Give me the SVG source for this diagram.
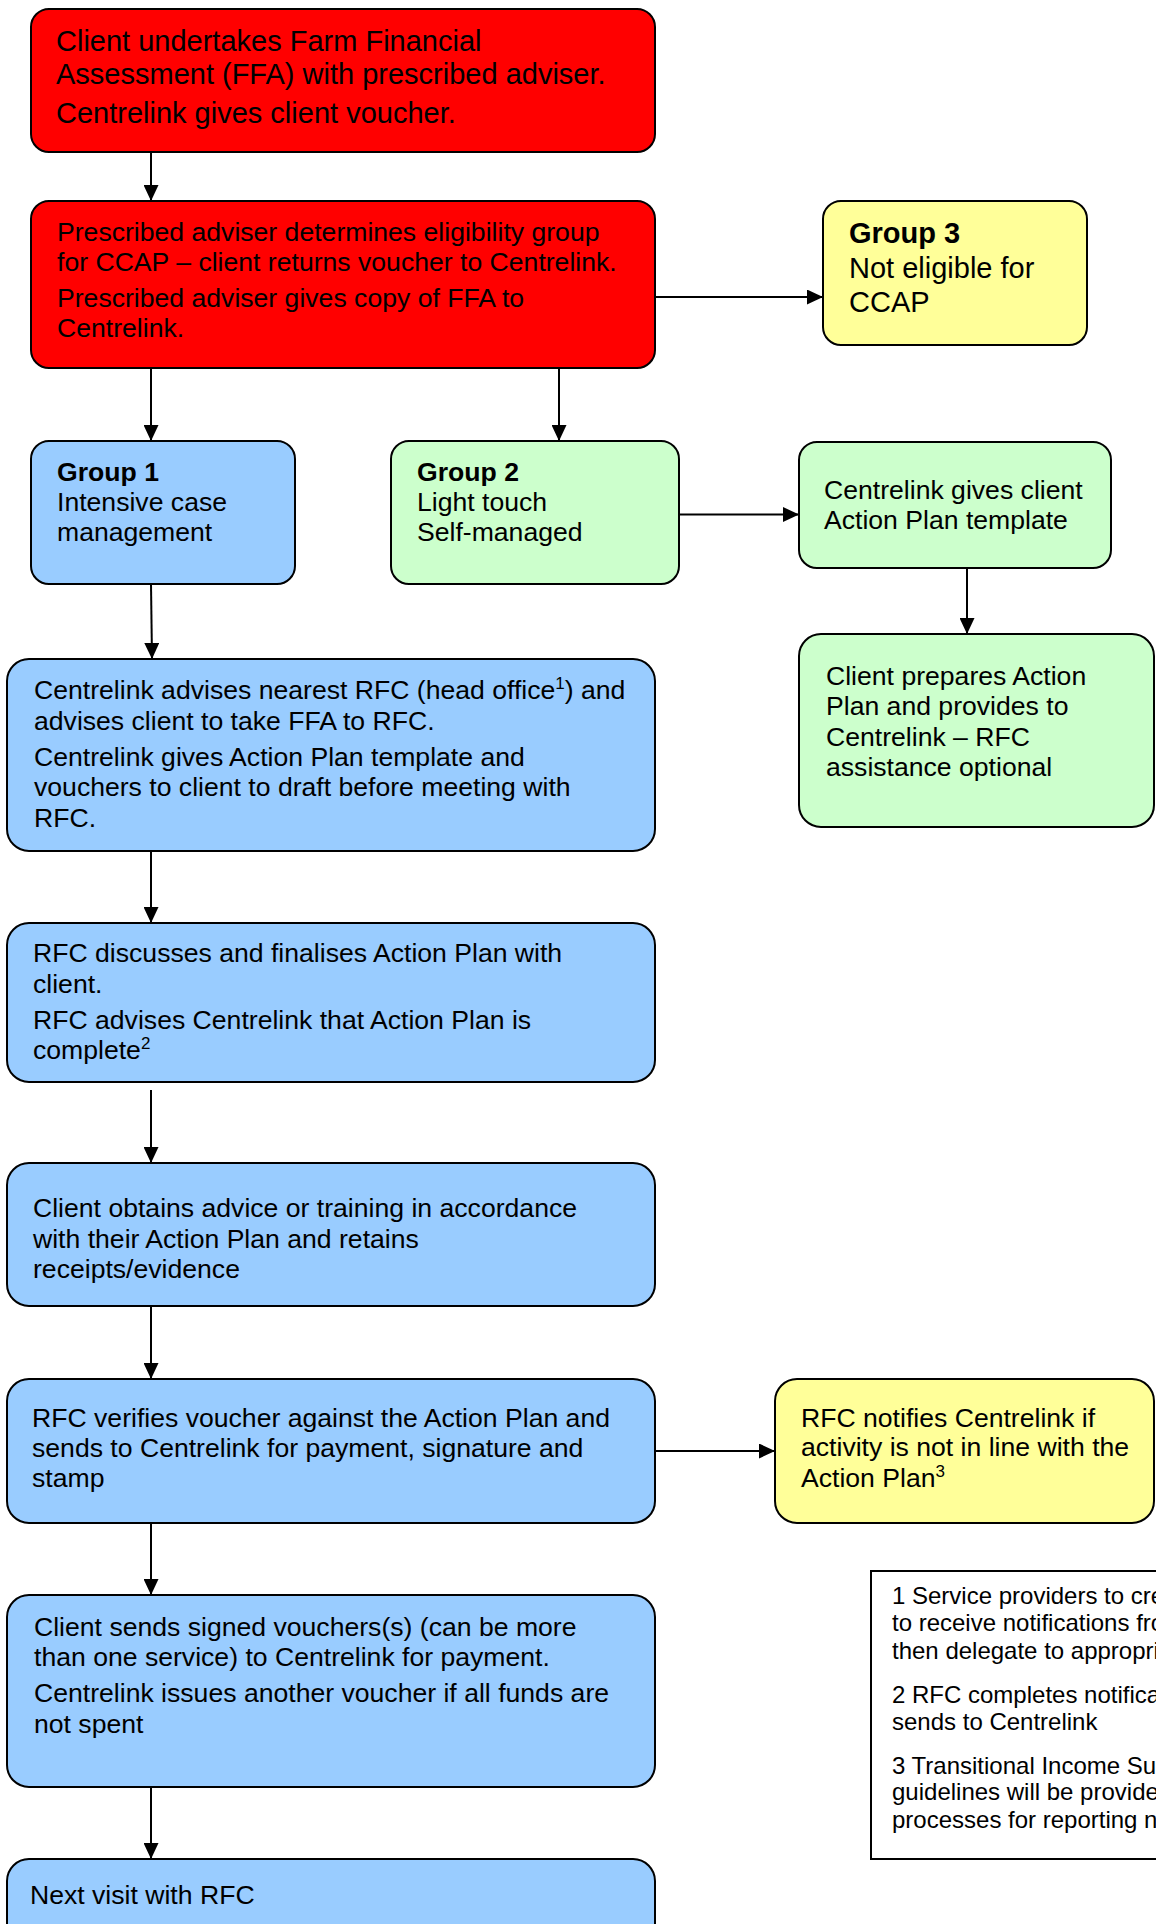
<svg xmlns="http://www.w3.org/2000/svg" width="1156" height="1924" viewBox="0 0 1156 1924">
<defs>
<style>
.box{stroke:#000;stroke-width:2}
.red{fill:#FF0000}
.blue{fill:#99CCFF}
.green{fill:#CCFFCC}
.yellow{fill:#FFFF99}
text{font-family:"Liberation Sans",Arial,sans-serif;fill:#000}
.t29{font-size:29px}
.t26{font-size:26.6px}
.t24{font-size:24px}
.b{font-weight:bold}
.sup{font-size:17px}
.conn line{stroke:#000;stroke-width:2;marker-end:url(#arr)}
</style>
<marker id="arr" markerUnits="userSpaceOnUse" markerWidth="16" markerHeight="15" refX="16" refY="7.5" orient="auto">
<path d="M0,0 L16,7.5 L0,15 z" fill="#000"/>
</marker>
</defs>
<rect width="1156" height="1924" fill="#fff"/>

<g id="connectors" class="conn">
<line x1="151" y1="152" x2="151" y2="201"/>
<line x1="151" y1="368" x2="151" y2="441"/>
<line x1="559" y1="368" x2="559" y2="441"/>
<line x1="655" y1="297" x2="823" y2="297"/>
<line x1="679" y1="514.5" x2="799" y2="514.5"/>
<line x1="967" y1="568" x2="967" y2="634"/>
<line x1="151" y1="584" x2="152" y2="659"/>
<line x1="151" y1="851" x2="151" y2="923"/>
<line x1="151" y1="1090" x2="151" y2="1163"/>
<line x1="151" y1="1306" x2="151" y2="1379"/>
<line x1="655" y1="1451" x2="775" y2="1451"/>
<line x1="151" y1="1523" x2="151" y2="1595"/>
<line x1="151" y1="1787" x2="151" y2="1859"/>
</g>

<g id="n1">
<rect class="box red" x="31" y="9" width="624" height="143" rx="18"/>
<text class="t29" x="56" y="51">Client undertakes Farm Financial</text>
<text class="t29" x="56" y="84">Assessment (FFA) with prescribed adviser.</text>
<text class="t29" x="56" y="123">Centrelink gives client voucher.</text>
</g>

<g id="n2">
<rect class="box red" x="31" y="201" width="624" height="167" rx="18"/>
<text class="t26" x="57" y="241">Prescribed adviser determines eligibility group</text>
<text class="t26" x="57" y="271">for CCAP – client returns voucher to Centrelink.</text>
<text class="t26" x="57" y="307">Prescribed adviser gives copy of FFA to</text>
<text class="t26" x="57" y="337">Centrelink.</text>
</g>

<g id="n3">
<rect class="box yellow" x="823" y="201" width="264" height="144" rx="18"/>
<text class="t29 b" x="849" y="243">Group 3</text>
<text class="t29" x="849" y="278">Not eligible for</text>
<text class="t29" x="849" y="312">CCAP</text>
</g>

<g id="g1">
<rect class="box blue" x="31" y="441" width="264" height="143" rx="18"/>
<text class="t26 b" x="57" y="481">Group 1</text>
<text class="t26" x="57" y="511">Intensive case</text>
<text class="t26" x="57" y="541">management</text>
</g>

<g id="g2">
<rect class="box green" x="391" y="441" width="288" height="143" rx="18"/>
<text class="t26 b" x="417" y="481">Group 2</text>
<text class="t26" x="417" y="511">Light touch</text>
<text class="t26" x="417" y="541">Self-managed</text>
</g>

<g id="tpl">
<rect class="box green" x="799" y="442" width="312" height="126" rx="18"/>
<text class="t26" x="824" y="499">Centrelink gives client</text>
<text class="t26" x="824" y="529">Action Plan template</text>
</g>

<g id="prep">
<rect class="box green" x="799" y="634" width="355" height="193" rx="22"/>
<text class="t26" x="826" y="685">Client prepares Action</text>
<text class="t26" x="826" y="715">Plan and provides to</text>
<text class="t26" x="826" y="746">Centrelink – RFC</text>
<text class="t26" x="826" y="776">assistance optional</text>
</g>

<g id="advise">
<rect class="box blue" x="7" y="659" width="648" height="192" rx="22"/>
<text class="t26" x="34" y="699">Centrelink advises nearest RFC (head office<tspan class="sup" dy="-10">1</tspan><tspan dy="10">) and</tspan></text>
<text class="t26" x="34" y="730">advises client to take FFA to RFC.</text>
<text class="t26" x="34" y="766">Centrelink gives Action Plan template and</text>
<text class="t26" x="34" y="796">vouchers to client to draft before meeting with</text>
<text class="t26" x="34" y="827">RFC.</text>
</g>

<g id="discuss">
<rect class="box blue" x="7" y="923" width="648" height="159" rx="22"/>
<text class="t26" x="33" y="962">RFC discusses and finalises Action Plan with</text>
<text class="t26" x="33" y="993">client.</text>
<text class="t26" x="33" y="1029">RFC advises Centrelink that Action Plan is</text>
<text class="t26" x="33" y="1059">complete<tspan class="sup" dy="-10">2</tspan></text>
</g>

<g id="obtain">
<rect class="box blue" x="7" y="1163" width="648" height="143" rx="22"/>
<text class="t26" x="33" y="1217">Client obtains advice or training in accordance</text>
<text class="t26" x="33" y="1248">with their Action Plan and retains</text>
<text class="t26" x="33" y="1278">receipts/evidence</text>
</g>

<g id="verify">
<rect class="box blue" x="7" y="1379" width="648" height="144" rx="22"/>
<text class="t26" x="32" y="1427">RFC verifies voucher against the Action Plan and</text>
<text class="t26" x="32" y="1457">sends to Centrelink for payment, signature and</text>
<text class="t26" x="32" y="1487">stamp</text>
</g>

<g id="notify">
<rect class="box yellow" x="775" y="1379" width="379" height="144" rx="22"/>
<text class="t26" x="801" y="1427">RFC notifies Centrelink if</text>
<text class="t26" x="801" y="1456">activity is not in line with the</text>
<text class="t26" x="801" y="1487">Action Plan<tspan class="sup" dy="-10">3</tspan></text>
</g>

<g id="sends">
<rect class="box blue" x="7" y="1595" width="648" height="192" rx="22"/>
<text class="t26" x="34" y="1636">Client sends signed vouchers(s) (can be more</text>
<text class="t26" x="34" y="1666">than one service) to Centrelink for payment.</text>
<text class="t26" x="34" y="1702">Centrelink issues another voucher if all funds are</text>
<text class="t26" x="34" y="1733">not spent</text>
</g>

<g id="next">
<rect class="box blue" x="7" y="1859" width="648" height="120" rx="22"/>
<text class="t26" x="30" y="1904">Next visit with RFC</text>
</g>

<g id="notes">
<rect x="871" y="1571" width="400" height="288" fill="#fff" stroke="#000" stroke-width="2"/>
<text class="t24" x="892" y="1604">1 Service providers to cre</text>
<text class="t24" x="892" y="1631">to receive notifications fro</text>
<text class="t24" x="892" y="1659">then delegate to appropri</text>
<text class="t24" x="892" y="1703">2 RFC completes notifica</text>
<text class="t24" x="892" y="1730">sends to Centrelink</text>
<text class="t24" x="892" y="1774">3 Transitional Income Su</text>
<text class="t24" x="892" y="1800">guidelines will be provide</text>
<text class="t24" x="892" y="1828">processes for reporting n</text>
</g>
</svg>
